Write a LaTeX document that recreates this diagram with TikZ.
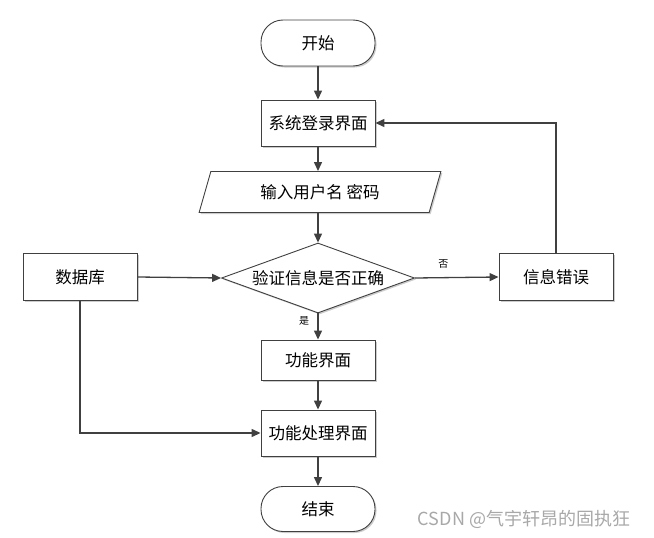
\documentclass[tikz,border=0pt]{standalone}
\usepackage{fontspec}
\setmainfont{Noto Sans CJK SC}
\usetikzlibrary{shapes, arrows.meta, positioning, shadows}

\definecolor{linegray}{HTML}{404040}
\definecolor{markgray}{HTML}{A8A8A8}

\tikzset{
    box/.style={draw=linegray, fill=white, line width=0.9pt,
                minimum width=114pt, minimum height=46pt, inner sep=0pt,
                font=\fontsize{16.5}{19}\selectfont,
                drop shadow={shadow xshift=1.5pt, shadow yshift=-1.5pt,
                             fill=black!40, opacity=0.5}},
    term/.style={box, rounded corners=22pt},
    flow/.style={draw=linegray, line width=1.3pt,
                 -{Triangle[length=9pt, width=8pt]}},
    small/.style={font=\fontsize{10}{12}\selectfont}
}

\begin{document}
\begin{tikzpicture}[x=1pt, y=-1pt]
    \useasboundingbox (0,0) rectangle (654,538);

    \node[term] (start) at (318, 43) {开始};
    \node[box] (login) at (318,123) {系统登录界面};
    \node[box, trapezium, trapezium stretches=true,
          trapezium left angle=67.5, trapezium right angle=112.5,
          minimum width=242pt, minimum height=41pt] (input) at (320,192) {输入用户名 密码};
    \node[box, diamond, aspect=2.75, minimum width=193pt, minimum height=70pt] (check) at (318,278) {验证信息是否正确};
    \node[box, minimum height=47pt] (db) at (80,277) {数据库};
    \node[box, minimum height=47pt] (err) at (556,277) {信息错误};
    \node[box, minimum height=40pt] (func) at (318,360) {功能界面};
    \node[box] (proc) at (318,433) {功能处理界面};
    \node[term, minimum height=45pt] (stop) at (318,509) {结束};

    \draw[flow] (start) -- (login);
    \draw[flow] (login) -- (login |- input.north);
    \draw[flow] (login |- input.south) -- (check);
    \draw[flow] (check.east) -- node[small, pos=0.34, above=5pt]{否} (err.west);
    \draw[flow] (check.south) -- node[small, pos=0.3, left=5pt]{是} (func.north);
    \draw[flow] (func) -- (proc);
    \draw[flow] (proc) -- (stop);
    \draw[flow] (db.east) -- (check.west);
    \draw[flow] (db.south) |- (proc.west);
    \draw[flow] (err.north) |- (login.east);

    \node[text=markgray, font=\fontsize{18}{20}\selectfont] (mark) at (524,519) {CSDN @气宇轩昂的固执狂};
\end{tikzpicture}
\end{document}
